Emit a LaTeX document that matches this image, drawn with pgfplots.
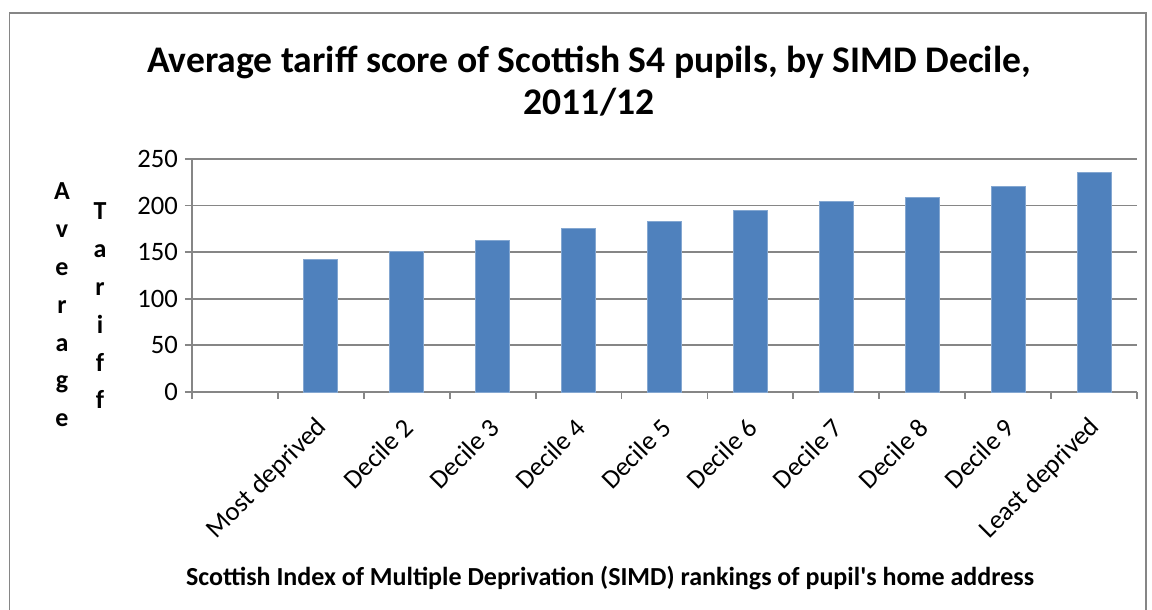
\documentclass[border=0pt]{standalone}
\usepackage{pgfplots}
\pgfplotsset{compat=1.18}
\usepackage{fontspec}
\setmainfont{Carlito}
\definecolor{barblue}{HTML}{4F81BD}
\definecolor{gridgray}{HTML}{868686}
\begin{document}
\begin{tikzpicture}[x=0.5pt,y=0.5pt]
\useasboundingbox (0,0) rectangle (1152,610);
\draw[gridgray, line width=0.9pt] (9.5,0) -- (9.5,597) -- (1146,597) -- (1146,0);
\node[align=center, font=\bfseries\fontsize{18.8}{21}\selectfont] at (589,529) {Average tariff score of Scottish S4 pupils, by SIMD Decile,\\2011/12};
\node[align=center, font=\bfseries\fontsize{13}{18.9}\selectfont] at (62,305) {A\\v\\e\\r\\a\\g\\e};
\node[align=center, font=\bfseries\fontsize{13}{18.9}\selectfont] at (100,304) {T\\a\\r\\i\\f\\f};
\node[font=\bfseries\fontsize{13}{15}\selectfont] at (610,32) {Scottish Index of Multiple Deprivation (SIMD) rankings of pupil\textquotesingle s home address};
\begin{axis}[
  at={(96pt,109pt)}, anchor=south west,
  scale only axis, width=472.5pt, height=116.5pt,
  xmin=-0.5, xmax=10.5, ymin=0, ymax=250,
  ytick={0,50,...,250},
  xtick={1,...,10},
  xticklabels={Most deprived,Decile 2,Decile 3,Decile 4,Decile 5,Decile 6,Decile 7,Decile 8,Decile 9,Least deprived},
  minor xtick={-0.5,0.5,...,10.5},
  major x tick style={draw=none},
  minor x tick style={gridgray, line width=0.9pt},
  major y tick style={gridgray, line width=0.9pt},
  tick align=outside,
  major tick length=3.5pt, minor tick length=3.5pt,
  axis lines*=left,
  axis line style={gridgray, line width=0.9pt},
  ymajorgrids, grid style={gridgray, line width=0.9pt},
  ticklabel style={font=\fontsize{13.3}{15}\selectfont},
  xticklabel style={anchor=east, inner sep=0pt, xshift=1pt, yshift=-12pt, rotate=45},
  /pgf/number format/assume math mode=true,
  ybar, bar width=17pt, bar shift=0pt,
  clip=false,
]
\addplot[fill=barblue, draw=barblue!70!white, line width=0.4pt] coordinates {
(1,142) (2,151) (3,163) (4,175) (5,183) (6,195) (7,204) (8,209) (9,221) (10,236)};
\end{axis}
\end{tikzpicture}
\end{document}
